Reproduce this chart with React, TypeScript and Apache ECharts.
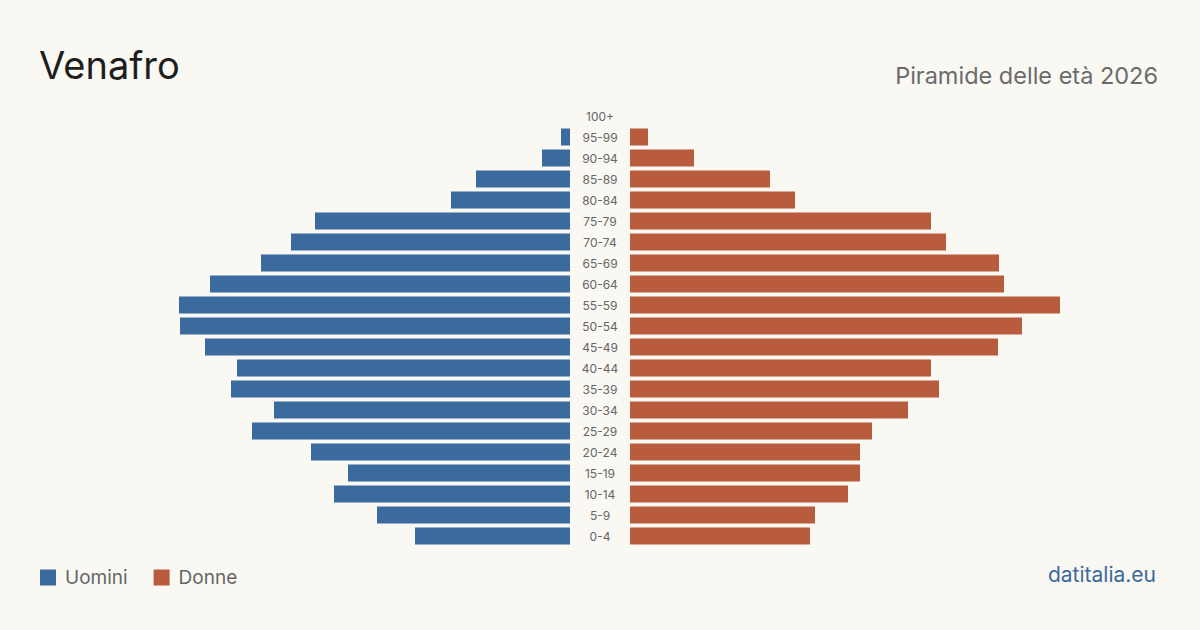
import React, { useEffect, useRef } from "react";
import * as echarts from "echarts";

const ageGroups = ["0-4","5-9","10-14","15-19","20-24","25-29","30-34","35-39","40-44","45-49","50-54","55-59","60-64","65-69","70-74","75-79","80-84","85-89","90-94","95-99","100+"];
const men = [155,193,236,222,259,318,296,339,333,365,390,391,360,309,279,255,119,94,28,9,0];
const women = [180,185,218,230,230,242,278,309,301,368,392,430,374,369,316,301,165,140,64,18,0];

const BLUE = "#3b6a9c";
const RED = "#b95c3d";
const FONT = "Inter, 'Noto Sans', sans-serif";

export default function App() {
  const ref = useRef<HTMLDivElement>(null);
  useEffect(() => {
    const chart = echarts.init(ref.current!, null, { renderer: "svg" });
    chart.setOption({
      animation: false,
      backgroundColor: "#f9f8f3",
      textStyle: { fontFamily: FONT },
      title: [
        { text: "Venafro", left: 39, top: 46, padding: 0, textStyle: { fontSize: 38, fontWeight: "normal", color: "#1e1e1e", fontFamily: FONT } },
        { text: "Piramide delle età 2026", right: 42, top: 63, padding: 0, textStyle: { fontSize: 23.5, fontWeight: "normal", color: "#6b6b6b", fontFamily: FONT } },
        { text: "datitalia.eu", right: 44, top: 564, padding: 0, textStyle: { fontSize: 21, fontWeight: "normal", color: "#3b6a9c", fontFamily: FONT } },
      ],
      legend: {
        left: 40, top: 568, padding: 0, itemWidth: 16, itemHeight: 16, itemGap: 26,
        icon: "rect",
        textStyle: { fontSize: 19, color: "#666", fontFamily: FONT, padding: [0, 0, 0, 4] },
        data: ["Uomini", "Donne"],
      },
      grid: [
        { left: 140, width: 430, top: 105.5, height: 441 },
        { left: 630, width: 430, top: 105.5, height: 441 },
      ],
      xAxis: [
        { gridIndex: 0, type: "value", min: 0, max: 430, inverse: true, show: false },
        { gridIndex: 1, type: "value", min: 0, max: 430, show: false },
      ],
      yAxis: [
        { gridIndex: 0, type: "category", data: ageGroups, show: false },
        {
          gridIndex: 1, type: "category", data: ageGroups,
          axisLine: { show: false }, axisTick: { show: false },
          axisLabel: { margin: 30, align: "center", fontSize: 12, color: "#666", fontFamily: FONT },
        },
      ],
      series: [
        { name: "Uomini", type: "bar", xAxisIndex: 0, yAxisIndex: 0, data: men, barWidth: 17, itemStyle: { color: BLUE } },
        { name: "Donne", type: "bar", xAxisIndex: 1, yAxisIndex: 1, data: women, barWidth: 17, itemStyle: { color: RED } },
      ],
    });
    return () => chart.dispose();
  }, []);
  return <div ref={ref} style={{ width: 1200, height: 630, position: "absolute", left: 0, top: 0 }} />;
}
